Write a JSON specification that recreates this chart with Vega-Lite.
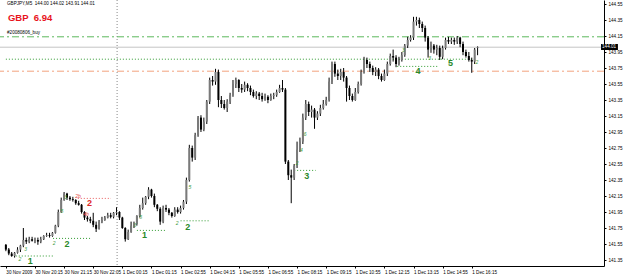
{
"$schema": "https://vega.github.io/schema/vega-lite/v6.json",
"width": 604, "height": 266,
"autosize": "none",
"padding": {"left": 0, "top": 0, "right": 21, "bottom": 9},
"background": "white",
"view": {"stroke": null},
"config": {"font": "Liberation Sans"},
"datasets": {
"bars": [
{"i":0,"o":141.54,"h":141.55,"l":141.46,"c":141.48},
{"i":1,"o":141.48,"h":141.50,"l":141.41,"c":141.43},
{"i":2,"o":141.43,"h":141.45,"l":141.39,"c":141.40},
{"i":3,"o":141.40,"h":141.45,"l":141.38,"c":141.44},
{"i":4,"o":141.44,"h":141.51,"l":141.43,"c":141.48},
{"i":5,"o":141.48,"h":141.54,"l":141.45,"c":141.53},
{"i":6,"o":141.53,"h":141.75,"l":141.51,"c":141.60},
{"i":7,"o":141.60,"h":141.63,"l":141.55,"c":141.58},
{"i":8,"o":141.58,"h":141.64,"l":141.56,"c":141.61},
{"i":9,"o":141.61,"h":141.64,"l":141.58,"c":141.59},
{"i":10,"o":141.59,"h":141.63,"l":141.56,"c":141.60},
{"i":11,"o":141.60,"h":141.63,"l":141.54,"c":141.58},
{"i":12,"o":141.58,"h":141.64,"l":141.56,"c":141.61},
{"i":13,"o":141.61,"h":141.66,"l":141.60,"c":141.65},
{"i":14,"o":141.65,"h":141.69,"l":141.64,"c":141.66},
{"i":15,"o":141.66,"h":141.69,"l":141.63,"c":141.65},
{"i":16,"o":141.65,"h":141.70,"l":141.64,"c":141.69},
{"i":17,"o":141.69,"h":141.79,"l":141.68,"c":141.78},
{"i":18,"o":141.78,"h":141.98,"l":141.76,"c":141.95},
{"i":19,"o":141.95,"h":142.13,"l":141.94,"c":142.10},
{"i":20,"o":142.10,"h":142.20,"l":142.09,"c":142.18},
{"i":21,"o":142.18,"h":142.19,"l":142.10,"c":142.13},
{"i":22,"o":142.13,"h":142.15,"l":142.09,"c":142.11},
{"i":23,"o":142.11,"h":142.14,"l":142.08,"c":142.10},
{"i":24,"o":142.10,"h":142.11,"l":142.04,"c":142.06},
{"i":25,"o":142.06,"h":142.09,"l":142.03,"c":142.04},
{"i":26,"o":142.04,"h":142.05,"l":141.93,"c":141.95},
{"i":27,"o":141.95,"h":141.96,"l":141.85,"c":141.88},
{"i":28,"o":141.88,"h":141.90,"l":141.83,"c":141.86},
{"i":29,"o":141.86,"h":141.89,"l":141.81,"c":141.84},
{"i":30,"o":141.84,"h":141.94,"l":141.76,"c":141.79},
{"i":31,"o":141.79,"h":141.83,"l":141.70,"c":141.74},
{"i":32,"o":141.74,"h":141.85,"l":141.73,"c":141.83},
{"i":33,"o":141.83,"h":141.89,"l":141.81,"c":141.85},
{"i":34,"o":141.85,"h":141.90,"l":141.84,"c":141.88},
{"i":35,"o":141.88,"h":141.94,"l":141.87,"c":141.91},
{"i":36,"o":141.91,"h":141.94,"l":141.87,"c":141.89},
{"i":37,"o":141.89,"h":141.95,"l":141.87,"c":141.94},
{"i":38,"o":141.94,"h":142.01,"l":141.91,"c":141.95},
{"i":39,"o":141.95,"h":141.96,"l":141.85,"c":141.88},
{"i":40,"o":141.88,"h":141.89,"l":141.74,"c":141.75},
{"i":41,"o":141.75,"h":141.76,"l":141.58,"c":141.61},
{"i":42,"o":141.61,"h":141.73,"l":141.60,"c":141.70},
{"i":43,"o":141.70,"h":141.83,"l":141.69,"c":141.78},
{"i":44,"o":141.78,"h":141.83,"l":141.75,"c":141.80},
{"i":45,"o":141.80,"h":141.91,"l":141.78,"c":141.90},
{"i":46,"o":141.90,"h":142.04,"l":141.88,"c":142.00},
{"i":47,"o":142.00,"h":142.13,"l":141.98,"c":142.06},
{"i":48,"o":142.06,"h":142.15,"l":142.04,"c":142.14},
{"i":49,"o":142.14,"h":142.26,"l":142.11,"c":142.23},
{"i":50,"o":142.23,"h":142.24,"l":142.13,"c":142.15},
{"i":51,"o":142.15,"h":142.18,"l":142.01,"c":142.04},
{"i":52,"o":142.04,"h":142.05,"l":141.96,"c":141.99},
{"i":53,"o":141.99,"h":142.01,"l":141.79,"c":141.83},
{"i":54,"o":141.83,"h":142.03,"l":141.81,"c":142.00},
{"i":55,"o":142.00,"h":142.04,"l":141.95,"c":141.98},
{"i":56,"o":141.98,"h":142.00,"l":141.91,"c":141.94},
{"i":57,"o":141.94,"h":141.95,"l":141.88,"c":141.90},
{"i":58,"o":141.90,"h":142.01,"l":141.89,"c":141.98},
{"i":59,"o":141.98,"h":142.01,"l":141.93,"c":141.95},
{"i":60,"o":141.95,"h":142.03,"l":141.93,"c":142.00},
{"i":61,"o":142.00,"h":142.10,"l":141.98,"c":142.08},
{"i":62,"o":142.08,"h":142.38,"l":142.05,"c":142.35},
{"i":63,"o":142.35,"h":142.79,"l":142.33,"c":142.75},
{"i":64,"o":142.75,"h":142.78,"l":142.58,"c":142.63},
{"i":65,"o":142.63,"h":142.94,"l":142.60,"c":142.91},
{"i":66,"o":142.91,"h":143.15,"l":142.89,"c":143.13},
{"i":67,"o":143.13,"h":143.16,"l":142.95,"c":142.98},
{"i":68,"o":142.98,"h":143.13,"l":142.96,"c":143.08},
{"i":69,"o":143.08,"h":143.35,"l":143.05,"c":143.33},
{"i":70,"o":143.33,"h":143.63,"l":143.30,"c":143.60},
{"i":71,"o":143.60,"h":143.65,"l":143.53,"c":143.58},
{"i":72,"o":143.58,"h":143.74,"l":143.54,"c":143.70},
{"i":73,"o":143.70,"h":143.73,"l":143.26,"c":143.35},
{"i":74,"o":143.35,"h":143.40,"l":143.25,"c":143.30},
{"i":75,"o":143.30,"h":143.35,"l":143.23,"c":143.25},
{"i":76,"o":143.25,"h":143.36,"l":143.20,"c":143.33},
{"i":77,"o":143.33,"h":143.44,"l":143.30,"c":143.41},
{"i":78,"o":143.41,"h":143.60,"l":143.39,"c":143.55},
{"i":79,"o":143.55,"h":143.63,"l":143.50,"c":143.60},
{"i":80,"o":143.60,"h":143.61,"l":143.45,"c":143.50},
{"i":81,"o":143.50,"h":143.55,"l":143.44,"c":143.48},
{"i":82,"o":143.48,"h":143.58,"l":143.45,"c":143.54},
{"i":83,"o":143.54,"h":143.56,"l":143.46,"c":143.50},
{"i":84,"o":143.50,"h":143.53,"l":143.41,"c":143.45},
{"i":85,"o":143.45,"h":143.48,"l":143.38,"c":143.40},
{"i":86,"o":143.40,"h":143.46,"l":143.36,"c":143.43},
{"i":87,"o":143.43,"h":143.45,"l":143.35,"c":143.40},
{"i":88,"o":143.40,"h":143.44,"l":143.33,"c":143.36},
{"i":89,"o":143.36,"h":143.43,"l":143.34,"c":143.39},
{"i":90,"o":143.39,"h":143.41,"l":143.31,"c":143.35},
{"i":91,"o":143.35,"h":143.43,"l":143.34,"c":143.40},
{"i":92,"o":143.40,"h":143.44,"l":143.36,"c":143.41},
{"i":93,"o":143.41,"h":143.48,"l":143.39,"c":143.45},
{"i":94,"o":143.45,"h":143.54,"l":143.44,"c":143.50},
{"i":95,"o":143.50,"h":143.60,"l":143.45,"c":143.48},
{"i":96,"o":143.48,"h":143.50,"l":142.55,"c":142.58},
{"i":97,"o":142.58,"h":142.60,"l":142.35,"c":142.41},
{"i":98,"o":142.41,"h":142.48,"l":142.06,"c":142.38},
{"i":99,"o":142.38,"h":142.55,"l":142.35,"c":142.53},
{"i":100,"o":142.53,"h":142.83,"l":142.50,"c":142.73},
{"i":101,"o":142.73,"h":142.88,"l":142.70,"c":142.83},
{"i":102,"o":142.83,"h":143.18,"l":142.80,"c":143.13},
{"i":103,"o":143.13,"h":143.35,"l":143.10,"c":143.30},
{"i":104,"o":143.30,"h":143.33,"l":143.15,"c":143.20},
{"i":105,"o":143.20,"h":143.28,"l":143.13,"c":143.23},
{"i":106,"o":143.23,"h":143.25,"l":142.99,"c":143.13},
{"i":107,"o":143.13,"h":143.21,"l":143.10,"c":143.18},
{"i":108,"o":143.18,"h":143.29,"l":143.15,"c":143.25},
{"i":109,"o":143.25,"h":143.35,"l":143.23,"c":143.30},
{"i":110,"o":143.30,"h":143.39,"l":143.28,"c":143.35},
{"i":111,"o":143.35,"h":143.63,"l":143.33,"c":143.58},
{"i":112,"o":143.58,"h":143.83,"l":143.55,"c":143.80},
{"i":113,"o":143.80,"h":143.83,"l":143.64,"c":143.68},
{"i":114,"o":143.68,"h":143.73,"l":143.60,"c":143.65},
{"i":115,"o":143.65,"h":143.74,"l":143.60,"c":143.70},
{"i":116,"o":143.70,"h":143.75,"l":143.58,"c":143.63},
{"i":117,"o":143.63,"h":143.65,"l":143.33,"c":143.50},
{"i":118,"o":143.50,"h":143.53,"l":143.35,"c":143.40},
{"i":119,"o":143.40,"h":143.43,"l":143.33,"c":143.35},
{"i":120,"o":143.35,"h":143.50,"l":143.34,"c":143.45},
{"i":121,"o":143.45,"h":143.58,"l":143.43,"c":143.55},
{"i":122,"o":143.55,"h":143.73,"l":143.53,"c":143.70},
{"i":123,"o":143.70,"h":143.89,"l":143.68,"c":143.85},
{"i":124,"o":143.85,"h":143.88,"l":143.75,"c":143.80},
{"i":125,"o":143.80,"h":143.83,"l":143.70,"c":143.75},
{"i":126,"o":143.75,"h":143.78,"l":143.66,"c":143.70},
{"i":127,"o":143.70,"h":143.76,"l":143.65,"c":143.73},
{"i":128,"o":143.73,"h":143.75,"l":143.61,"c":143.65},
{"i":129,"o":143.65,"h":143.68,"l":143.58,"c":143.60},
{"i":130,"o":143.60,"h":143.73,"l":143.59,"c":143.68},
{"i":131,"o":143.68,"h":143.83,"l":143.65,"c":143.80},
{"i":132,"o":143.80,"h":143.93,"l":143.78,"c":143.90},
{"i":133,"o":143.90,"h":143.98,"l":143.83,"c":143.88},
{"i":134,"o":143.88,"h":143.91,"l":143.76,"c":143.80},
{"i":135,"o":143.80,"h":143.89,"l":143.78,"c":143.85},
{"i":136,"o":143.85,"h":143.95,"l":143.83,"c":143.91},
{"i":137,"o":143.91,"h":144.05,"l":143.89,"c":144.03},
{"i":138,"o":144.03,"h":144.14,"l":144.00,"c":144.10},
{"i":139,"o":144.10,"h":144.16,"l":144.08,"c":144.13},
{"i":140,"o":144.13,"h":144.39,"l":144.10,"c":144.33},
{"i":141,"o":144.33,"h":144.39,"l":144.28,"c":144.35},
{"i":142,"o":144.35,"h":144.38,"l":144.25,"c":144.30},
{"i":143,"o":144.30,"h":144.33,"l":144.20,"c":144.25},
{"i":144,"o":144.25,"h":144.28,"l":144.08,"c":144.13},
{"i":145,"o":144.13,"h":144.15,"l":143.88,"c":143.98},
{"i":146,"o":143.98,"h":144.08,"l":143.94,"c":144.03},
{"i":147,"o":144.03,"h":144.05,"l":143.93,"c":143.98},
{"i":148,"o":143.98,"h":144.04,"l":143.91,"c":144.00},
{"i":149,"o":144.00,"h":144.03,"l":143.85,"c":143.89},
{"i":150,"o":143.89,"h":144.03,"l":143.86,"c":144.00},
{"i":151,"o":144.00,"h":144.13,"l":143.98,"c":144.10},
{"i":152,"o":144.10,"h":144.14,"l":144.05,"c":144.08},
{"i":153,"o":144.08,"h":144.13,"l":144.05,"c":144.10},
{"i":154,"o":144.10,"h":144.13,"l":144.04,"c":144.08},
{"i":155,"o":144.08,"h":144.15,"l":144.05,"c":144.13},
{"i":156,"o":144.13,"h":144.14,"l":144.01,"c":144.05},
{"i":157,"o":144.05,"h":144.08,"l":143.91,"c":143.95},
{"i":158,"o":143.95,"h":143.98,"l":143.88,"c":143.90},
{"i":159,"o":143.90,"h":143.95,"l":143.83,"c":143.85},
{"i":160,"o":143.85,"h":143.88,"l":143.69,"c":143.83},
{"i":161,"o":143.83,"h":144.00,"l":143.80,"c":143.98},
{"i":162,"o":144.00,"h":144.02,"l":143.91,"c":144.01}
],
"hlines": [
{"name":"target","p":144.14},
{"name":"bid","p":144.01},
{"name":"stop","p":143.71}
],
"segs": [
{"kind":"green","x1":0,"x2":161.5,"p":143.86},
{"kind":"green","x1":134.4,"x2":148.6,"p":143.77},
{"kind":"green","x1":3.4,"x2":16.2,"p":141.40},
{"kind":"green","x1":16.2,"x2":29,"p":141.62},
{"kind":"red","x1":24.7,"x2":36.1,"p":142.12},
{"kind":"green","x1":45,"x2":55,"p":141.72},
{"kind":"green","x1":60,"x2":70.3,"p":141.84},
{"kind":"green","x1":99,"x2":106.4,"p":142.47}
],
"sep": [{"t":38.2}],
"waves": [
{"kind":"green","i":8.4,"p":141.34,"t":"1"},
{"kind":"green","i":21,"p":141.55,"t":"2"},
{"kind":"red","i":28.7,"p":142.06,"t":"2"},
{"kind":"green","i":47.6,"p":141.66,"t":"1"},
{"kind":"green","i":62.5,"p":141.76,"t":"2"},
{"kind":"green","i":103.3,"p":142.40,"t":"3"},
{"kind":"green","i":141.5,"p":143.71,"t":"4"},
{"kind":"green","i":152.7,"p":143.81,"t":"5"}
],
"minor": [
{"kind":"green","i":4.8,"p":141.36,"t":"2"},
{"kind":"green","i":6.8,"p":141.49,"t":"3"},
{"kind":"green","i":16.6,"p":141.56,"t":"2"},
{"kind":"green","i":19.2,"p":141.96,"t":"5"},
{"kind":"green","i":20.5,"p":142.14,"t":"3"},
{"kind":"red","i":24.8,"p":142.15,"t":"2b"},
{"kind":"red","i":27.5,"p":141.92,"t":"4b"},
{"kind":"green","i":44.3,"p":141.79,"t":"3"},
{"kind":"green","i":46.3,"p":141.89,"t":"5"},
{"kind":"green","i":58.8,"p":141.81,"t":"2"},
{"kind":"green","i":63.2,"p":142.26,"t":"5"},
{"kind":"green","i":100,"p":142.56,"t":"2"},
{"kind":"green","i":101.5,"p":142.72,"t":"4"},
{"kind":"green","i":102.8,"p":142.92,"t":"6"},
{"kind":"green","i":136.5,"p":143.98,"t":"3"},
{"kind":"green","i":145.5,"p":143.87,"t":"3"},
{"kind":"green","i":161.8,"p":143.82,"t":"2"}
],
"info": [
{"kind":"sym","i":0.4,"p":144.55,"t":"GBPJPY,M5\u00a0\u00a0144.00 144.02 143.91 144.01"},
{"kind":"big","i":0.7,"p":144.37,"t":"GBP\u00a0\u00a06.94"},
{"kind":"sym","i":0.4,"p":144.19,"t":"#20080806_buy"}
],
"pricebox": [{"x1":204.4,"x2":210.2,"p1":144.05,"p2":143.975,"p":144.01,"t":"144.01"}]
},
"encoding": {
"x": {"field":"i","type":"quantitative","scale":{"domain":[-0.3,203.7],"nice":false,"zero":false},
"axis":{"orient":"bottom","title":null,"grid":false,"values":[0,10,20,30,40,50,60,70,80,90,100,110,120,130,140,150,160],
"labelExpr":"['30 Nov 2009','30 Nov 20:15','30 Nov 21:15','30 Nov 22:05','1 Dec 00:15','1 Dec 01:15','1 Dec 02:55','1 Dec 04:15','1 Dec 05:55','1 Dec 06:55','1 Dec 08:15','1 Dec 09:15','1 Dec 10:55','1 Dec 12:15','1 Dec 13:15','1 Dec 14:55','1 Dec 16:15'][round(datum.value/10)]",
"labelAlign":"left","labelBaseline":"top","labelFontSize":4.6,"labelColor":"#000","labelPadding":1,"tickSize":2,"tickColor":"#000","domainColor":"#000","labelOverlap":false,"labelFlush":false,"labelBound":false}},
"y": {"field":"l","type":"quantitative","scale":{"domain":[141.275,144.6],"nice":false,"zero":false},
"axis":{"orient":"right","title":null,"grid":false,"values":[141.35,141.55,141.75,141.95,142.15,142.35,142.55,142.75,142.95,143.15,143.35,143.55,143.75,143.95,144.15,144.35,144.55],
"format":".2f","labelFontSize":4.6,"labelColor":"#000","labelPadding":2,"tickSize":2,"tickColor":"#000","domainColor":"#000","labelOverlap":false,"labelFlush":false,"labelBound":false}}
},
"layer": [
{"data":{"name":"sep"},"mark":{"type":"rule","color":"#888888","strokeDash":[1,2],"strokeWidth":1},
 "encoding":{"x":{"field":"t","type":"quantitative"},"y":null}},
{"data":{"name":"hlines"},"transform":[{"filter":"datum.name=='target'"}],"mark":{"type":"rule","color":"#5cb85c","strokeDash":[7,3,2,3],"strokeWidth":1},
 "encoding":{"x":null,"y":{"field":"p","type":"quantitative"}}},
{"data":{"name":"hlines"},"transform":[{"filter":"datum.name=='bid'"}],"mark":{"type":"rule","color":"#c4c4c4","strokeWidth":1},
 "encoding":{"x":null,"y":{"field":"p","type":"quantitative"}}},
{"data":{"name":"hlines"},"transform":[{"filter":"datum.name=='stop'"}],"mark":{"type":"rule","color":"#f2a27e","strokeDash":[7,3,2,3],"strokeWidth":1},
 "encoding":{"x":null,"y":{"field":"p","type":"quantitative"}}},
{"data":{"name":"segs"},"transform":[{"filter":"datum.kind=='green'"}],"mark":{"type":"rule","color":"#2f9a2f","strokeDash":[1,2],"strokeWidth":1},
 "encoding":{"x":{"field":"x1","type":"quantitative"},"x2":{"field":"x2"},"y":{"field":"p","type":"quantitative"}}},
{"data":{"name":"segs"},"transform":[{"filter":"datum.kind=='red'"}],"mark":{"type":"rule","color":"#e85a5a","strokeDash":[1,2],"strokeWidth":1},
 "encoding":{"x":{"field":"x1","type":"quantitative"},"x2":{"field":"x2"},"y":{"field":"p","type":"quantitative"}}},
{"data":{"name":"bars"},"mark":{"type":"rule","strokeWidth":1,"color":"#000000"},
 "encoding":{"y":{"field":"l","type":"quantitative"},"y2":{"field":"h"}}},
{"data":{"name":"bars"},"mark":{"type":"bar","width":2},
 "encoding":{"y":{"field":"o","type":"quantitative"},"y2":{"field":"c"},
  "color":{"condition":{"test":"datum.c > datum.o","value":"#7a7a7a"},"value":"#000000"}}},
{"data":{"name":"minor"},"transform":[{"filter":"datum.kind=='green'"}],"mark":{"type":"text","fontSize":5,"fontStyle":"italic","color":"#3a9a3a","align":"center","baseline":"middle"},
 "encoding":{"y":{"field":"p","type":"quantitative"},"text":{"field":"t"}}},
{"data":{"name":"minor"},"transform":[{"filter":"datum.kind=='red'"}],"mark":{"type":"text","fontSize":5,"fontStyle":"italic","color":"#e04040","align":"center","baseline":"middle"},
 "encoding":{"y":{"field":"p","type":"quantitative"},"text":{"field":"t"}}},
{"data":{"name":"waves"},"transform":[{"filter":"datum.kind=='green'"}],"mark":{"type":"text","fontSize":9,"fontWeight":"bold","color":"#2a8a2a","align":"center","baseline":"middle"},
 "encoding":{"y":{"field":"p","type":"quantitative"},"text":{"field":"t"}}},
{"data":{"name":"waves"},"transform":[{"filter":"datum.kind=='red'"}],"mark":{"type":"text","fontSize":9,"fontWeight":"bold","color":"#e02828","align":"center","baseline":"middle"},
 "encoding":{"y":{"field":"p","type":"quantitative"},"text":{"field":"t"}}},
{"data":{"name":"info"},"transform":[{"filter":"datum.kind=='sym'"}],"mark":{"type":"text","fontSize":4.6,"color":"#000","align":"left","baseline":"middle"},
 "encoding":{"y":{"field":"p","type":"quantitative"},"text":{"field":"t"}}},
{"data":{"name":"info"},"transform":[{"filter":"datum.kind=='big'"}],"mark":{"type":"text","fontSize":9.5,"fontWeight":"bold","color":"#e8141c","align":"left","baseline":"middle"},
 "encoding":{"y":{"field":"p","type":"quantitative"},"text":{"field":"t"}}},
{"data":{"name":"pricebox"},"mark":{"type":"rect","color":"#000"},
 "encoding":{"x":{"field":"x1","type":"quantitative"},"x2":{"field":"x2"},"y":{"field":"p1","type":"quantitative"},"y2":{"field":"p2"}}},
{"data":{"name":"pricebox"},"mark":{"type":"text","fontSize":4.6,"color":"#fff","align":"left","baseline":"middle","dx":1},
 "encoding":{"x":{"field":"x1","type":"quantitative"},"y":{"field":"p","type":"quantitative"},"text":{"field":"t"}}}
]
}
